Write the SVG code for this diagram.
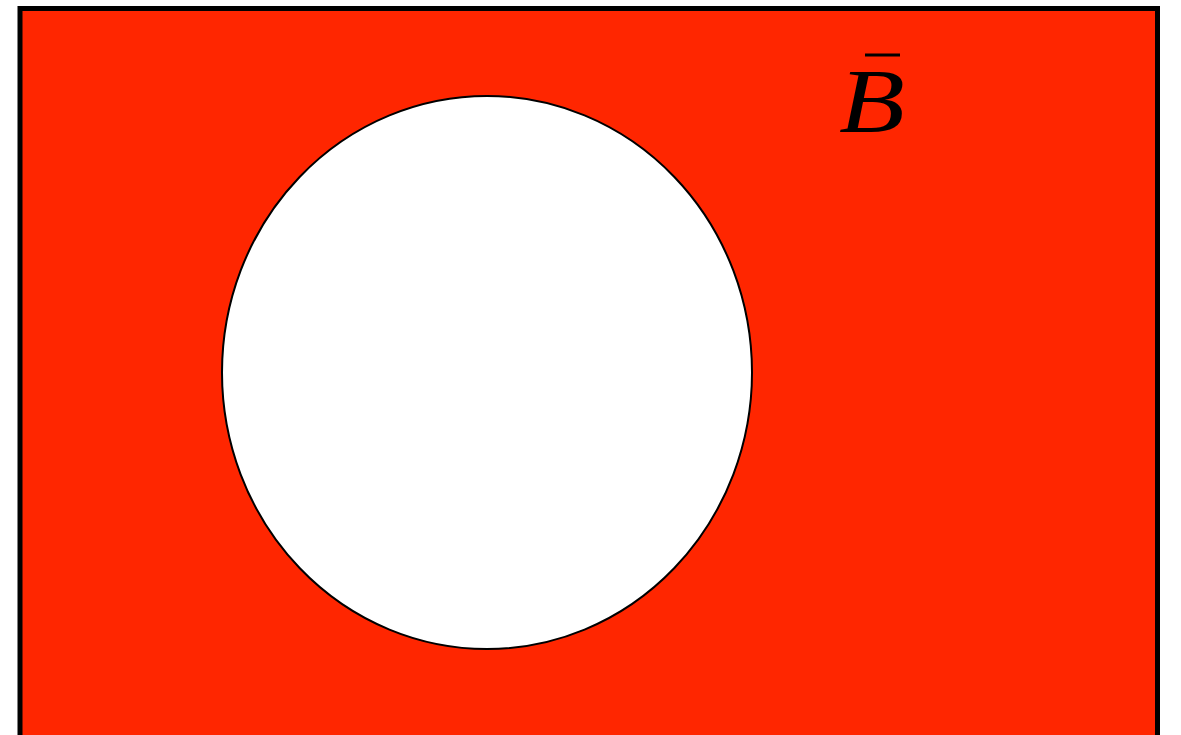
<svg xmlns="http://www.w3.org/2000/svg" width="1181" height="735" viewBox="0 0 1181 735">
<style>
.frame{fill:#ff2600;stroke:#000;stroke-width:5}
.set{fill:#fff;stroke:#000;stroke-width:2}
.lbl{font-family:"Liberation Serif",serif;font-style:italic;font-size:92px;fill:#000}
</style>
<rect width="1181" height="735" fill="#fff"/>
<g id="universe"><rect class="frame" x="20" y="8.5" width="1137.5" height="740"/></g>
<g id="setB"><ellipse class="set" cx="487" cy="372.5" rx="265" ry="276.5"/></g>
<g id="label">
<text class="lbl" x="0" y="0" transform="translate(839 132) scale(1.17 1)">B</text>
<line x1="865" y1="55" x2="900" y2="55" stroke="#000" stroke-width="3"/>
</g>
</svg>
